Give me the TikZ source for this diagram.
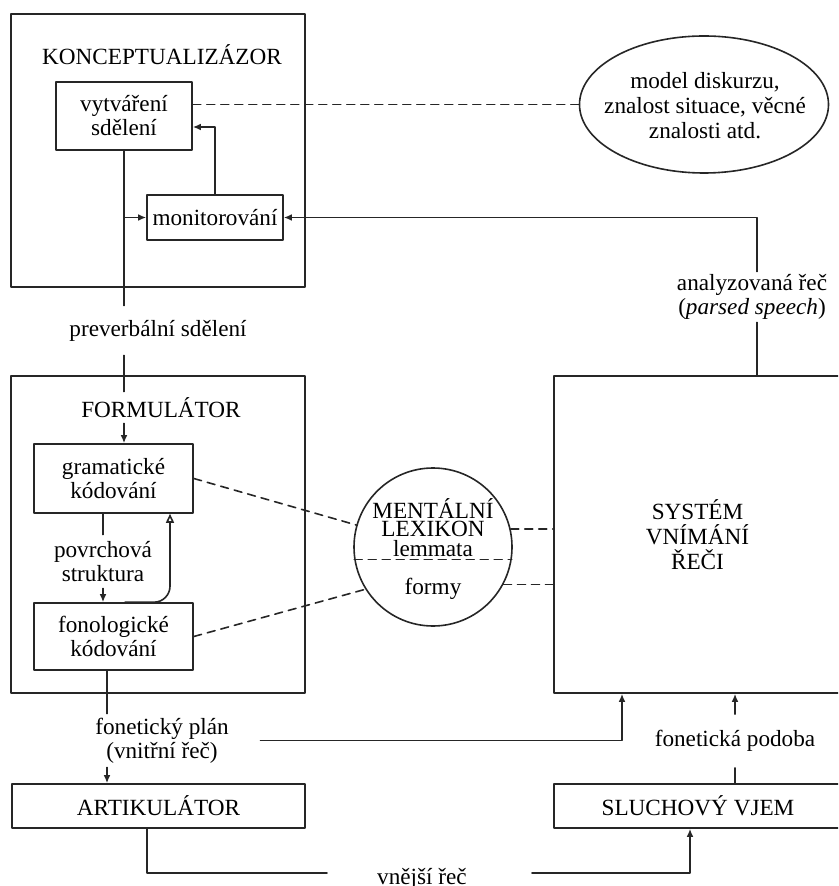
\documentclass[tikz,border=0pt]{standalone}
\usepackage{fontspec}
\setmainfont{Liberation Serif}
\usetikzlibrary{arrows.meta,shapes.geometric,positioning}

\begin{document}
\begin{tikzpicture}[line cap=round,line join=round,>={Latex[length=4pt,width=3.4pt]},x=0.5pt,y=-0.5pt,
        every node/.style={font=\fontsize{11.6}{12}\selectfont,align=center,inner sep=0pt},
        box/.style={draw=black!85,line width=0.8pt},
        link/.style={draw=black!85,line width=0.8pt},
        dashlink/.style={draw=black!85,line width=0.8pt,dash pattern=on 4pt off 3pt}]
                \useasboundingbox (0,0) rectangle (838,886);
                \clip (0,0) rectangle (838,886);
                % konceptualizator
                \node[box,minimum width=147pt,minimum height=136.5pt] (konc) at (158,150.5) {};
                \node (konctitle) at (162,55) {KONCEPTUALIZÁZOR};
                \node[box,minimum width=68pt,minimum height=34pt] (vytv) at (124,116) {vytváření\\sdělení};
                \node[box,minimum width=68pt,minimum height=22.5pt] (monit) at (215,217.5) {monitorování};
                \node[box,ellipse,minimum width=124.5pt,minimum height=68.5pt] (model) at (704,104.5) {};
                \node[font=\fontsize{11.6}{12.5}\selectfont] (modeltext) at (705,106) {model diskurzu,\\znalost situace, věcné\\znalosti atd.};
                \node[minimum height=24.5pt] (prever) at (158,330.5) {preverbální sdělení};
                % formulator
                \node[box,minimum width=147pt,minimum height=158.5pt] (form) at (158,534.5) {};
                \node[minimum height=15.5pt] (formtitle) at (161,407.5) {FORMULÁTOR};
                \node[box,minimum width=79.5pt,minimum height=34.5pt] (gram) at (113.5,478.5) {gramatické\\kódování};
                \node[minimum height=26.5pt] (povrch) at (103,561.5) {povrchová\\struktura};
                \node[box,minimum width=79.5pt,minimum height=33.5pt] (fono) at (113.5,636.5) {fonologické\\kódování};
                % lexikon
                \node[box,circle,minimum size=79pt] (lex) at (433,547) {};
                \node (lexname1) at (433,509) {MENTÁLNÍ};
                \node (lexname2) at (433,529) {LEXIKON};
                \node (lemma) at (433,549) {lemmata};
                \node (formy) at (433,589) {formy};
                % vnimani
                \node[box,minimum width=143.5pt,minimum height=158.5pt,font=\fontsize{11.6}{12.5}\selectfont] (sys) at (697.5,534.5) {SYSTÉM\\VNÍMÁNÍ\\ŘEČI};
                \node[minimum height=25pt] (parsed) at (752,297) {analyzovaná řeč\\(\textit{parsed speech})};
                \node[minimum width=98pt,minimum height=26.5pt] (fonplan) at (162,740.5) {fonetický plán\\(vnitřní řeč)};
                \node[minimum height=26.5pt] (fonpod) at (735,741) {fonetická podoba};
                \node[box,minimum width=146.5pt,minimum height=22pt] (art) at (158.5,806) {ARTIKULÁTOR};
                \node[box,minimum width=144pt,minimum height=22pt] (sluch) at (698,806) {SLUCHOVÝ VJEM};
                \node[anchor=base] (vnejsi) at (422,884) {vnější řeč};
                \coordinate (vl) at (327,873);
                \coordinate (vr) at (532,873);
                \coordinate (fx) at ([xshift=-3.25pt]fono.south);
                \coordinate (px) at ([xshift=2.5pt]parsed.south);
                % connectors
                \draw[link] (vytv.south) -- (prever.north -| vytv.south);
                \draw[link] (prever.south -| vytv.south) -- (formtitle.north -| vytv.south);
                \draw[link,->] (formtitle.south -| vytv.south) -- (gram.north -| vytv.south);
                \draw[link,->] (vytv.south |- monit.west) -- (monit.west);
                \draw[link,->] (monit.north) |- ([yshift=-5.5pt]vytv.east);
                \draw[dashlink] (vytv.east |- model.west) -- (model.west);
                \draw[link] (px) -- (px |- sys.north);
                \draw[link,->] (px |- parsed.north) |- (monit.east);
                \draw[link] (gram.south -| povrch) -- (povrch.north);
                \draw[link,->] (povrch.south) -- (fono.north -| povrch);
                \draw[link,-{Triangle[open,length=4.5pt,width=4pt]},rounded corners=8pt] ([xshift=5.75pt]fono.north) -| ([xshift=28.25pt]gram.south);
                \draw[dashlink] (gram.east) -- (lex.164);
                \draw[dashlink] (fono.east) -- (lex.212);
                \draw[dashlink] (lex.189) -- (lex.-9);
                \draw[dashlink] (lex.13) -- (lex.13 -| sys.west);
                \draw[dashlink] (lex.-28) -- (lex.-28 -| sys.west);
                \draw[link] (fx) -- (fx |- fonplan.north);
                \draw[link,->] (fx |- fonplan.south) -- (fx |- art.north);
                \draw[link,->] (fonplan.east) -| ([xshift=-37.75pt]sys.south);
                \draw[link] (sluch.north -| fonpod) -- (fonpod.south);
                \draw[link,->] (fonpod.north) -- (fonpod.north |- sys.south);
                \draw[link] ([xshift=-5.75pt]art.south) |- (vl);
                \draw[link,->] (vr) -| ([xshift=-4pt]sluch.south);
            \end{tikzpicture}
\end{document}
